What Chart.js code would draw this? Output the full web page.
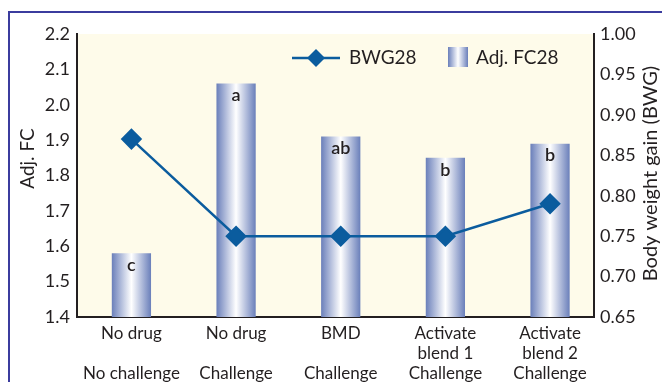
<!DOCTYPE html>
<html>
<head>
<meta charset="utf-8">
<script src="https://cdn.jsdelivr.net/npm/chart.js@4.4.0/dist/chart.umd.min.js"></script>
<style>
    body { margin: 0; background: #ffffff; }
    #wrap { width: 662px; height: 382px; position: relative; }
</style>
</head>
<body>
<div id="wrap"><canvas id="chartCanvas" width="662" height="382"></canvas></div>
<script>
const categories = [
    ["No drug", "", "No challenge"],
    ["No drug", "", "Challenge"],
    ["BMD", "", "Challenge"],
    ["Activate", "blend 1", "Challenge"],
    ["Activate", "blend 2", "Challenge"]
];
const adjFC28 = [1.58, 2.06, 1.91, 1.85, 1.89];
const bwg28 = [0.87, 0.75, 0.75, 0.75, 0.79];
const sigLetters = ["c", "a", "ab", "b", "b"];

const fontFamily = "Lato, 'Open Sans', sans-serif";
const textColor = "#231f20";
const lineColor = "#0b5c9e";
const barEdge = "#6a7fba";

function barGradient(ctx, x0, x1) {
    const g = ctx.createLinearGradient(x0, 0, x1, 0);
    g.addColorStop(0, barEdge);
    g.addColorStop(0.5, "#ffffff");
    g.addColorStop(1, barEdge);
    return g;
}

const chartDecor = {
    id: "chartDecor",
    beforeDraw(chart) {
        const { ctx, chartArea: a } = chart;
        ctx.save();
        // outer frame
        ctx.strokeStyle = "#3b3c9e";
        ctx.lineWidth = 2;
        ctx.beginPath();
        ctx.moveTo(9, 382);
        ctx.lineTo(9, 12);
        ctx.lineTo(662, 12);
        ctx.stroke();
        // plot background
        ctx.fillStyle = "#fefbea";
        ctx.fillRect(a.left, a.top, a.right - a.left, a.bottom - a.top);
        ctx.restore();
    },
    beforeDatasetsDraw(chart) {
        // each bar gets its own horizontal gradient (options are shared by default)
        const meta = chart.getDatasetMeta(1);
        meta.data.forEach(bar => {
            const half = bar.width / 2;
            bar.options = Object.assign({}, bar.options, {
                backgroundColor: barGradient(chart.ctx, bar.x - half, bar.x + half)
            });
        });
    },
    afterDatasetsDraw(chart) {
        const { ctx } = chart;
        const meta = chart.getDatasetMeta(1);
        ctx.save();
        ctx.fillStyle = textColor;
        ctx.font = "600 18px " + fontFamily;
        ctx.textAlign = "center";
        ctx.textBaseline = "middle";
        meta.data.forEach((bar, i) => {
            ctx.fillText(sigLetters[i], bar.x, bar.y + 12);
        });
        ctx.restore();
    },
    afterDraw(chart) {
        const { ctx } = chart;
        const a = chart.chartArea;
        ctx.save();
        // legend
        ctx.strokeStyle = lineColor;
        ctx.lineWidth = 2.5;
        ctx.beginPath();
        ctx.moveTo(292, 58);
        ctx.lineTo(340, 58);
        ctx.stroke();
        ctx.fillStyle = lineColor;
        ctx.beginPath();
        ctx.moveTo(316, 49);
        ctx.lineTo(325, 58);
        ctx.lineTo(316, 67);
        ctx.lineTo(307, 58);
        ctx.closePath();
        ctx.fill();
        ctx.fillStyle = barGradient(ctx, 448, 468);
        ctx.fillRect(448, 47, 20, 20);
        ctx.fillStyle = textColor;
        ctx.font = "19px " + fontFamily;
        ctx.textBaseline = "middle";
        ctx.textAlign = "left";
        ctx.fillText(chart.data.datasets[0].label, 349, 58);
        ctx.fillText(chart.data.datasets[1].label, 476, 58);
        // axis titles, reading bottom to top
        const midY = (a.top + a.bottom) / 2;
        ctx.textAlign = "center";
        ctx.save();
        ctx.translate(28, midY - 17);
        ctx.rotate(-Math.PI / 2);
        ctx.font = "19px " + fontFamily;
        ctx.fillText("Adj. FC", 0, 0);
        ctx.restore();
        ctx.save();
        ctx.translate(651, midY - 2);
        ctx.rotate(-Math.PI / 2);
        ctx.font = "20px " + fontFamily;
        ctx.fillText("Body weight gain (BWG)", 0, 0);
        ctx.restore();
        ctx.restore();
    }
};

const ctx = document.getElementById("chartCanvas").getContext("2d");

new Chart(ctx, {
    data: {
        datasets: [
            {
                type: "line",
                label: "BWG28",
                data: bwg28.map((v, i) => ({ x: i, y: v })),
                yAxisID: "yR",
                borderColor: lineColor,
                backgroundColor: lineColor,
                borderWidth: 2.5,
                pointStyle: "rectRot",
                pointRadius: 9,
                pointHoverRadius: 9,
                order: 0
            },
            {
                type: "bar",
                label: "Adj. FC28",
                data: adjFC28.map((v, i) => ({ x: i, y: v })),
                yAxisID: "y",
                backgroundColor: barEdge,
                categoryPercentage: 1,
                barPercentage: 0.375,
                order: 1
            }
        ]
    },
    options: {
        responsive: false,
        animation: false,
        events: [],
        layout: { padding: { left: 11, top: 34, right: 0, bottom: 0 } },
        scales: {
            x: {
                type: "linear",
                min: -0.52,
                max: 4.42,
                offset: false,
                grid: { display: false, drawTicks: false },
                border: { color: textColor, width: 2 },
                afterBuildTicks(scale) {
                    scale.ticks = categories.map((c, i) => ({ value: i }));
                },
                ticks: {
                    color: textColor,
                    font: { family: fontFamily, size: 17 },
                    padding: 6,
                    maxRotation: 0,
                    autoSkip: false,
                    callback: v => categories[v]
                },
                afterFit(scale) { scale.height = 65; }
            },
            y: {
                position: "left",
                min: 1.4,
                max: 2.2,
                grid: { display: false, drawTicks: false },
                border: { color: textColor, width: 2 },
                ticks: {
                    stepSize: 0.1,
                    color: textColor,
                    font: { family: fontFamily, size: 18 },
                    padding: 7,
                    callback: v => v.toFixed(1)
                },
                afterFit(scale) { scale.width = 66; }
            },
            yR: {
                position: "right",
                min: 0.65,
                max: 1.0,
                grid: { display: false, drawTicks: false },
                border: { color: textColor, width: 2 },
                ticks: {
                    stepSize: 0.05,
                    color: textColor,
                    font: { family: fontFamily, size: 18 },
                    padding: 6,
                    callback: v => v.toFixed(2)
                },
                afterFit(scale) { scale.width = 68; }
            }
        },
        plugins: {
            legend: { display: false },
            tooltip: { enabled: false }
        }
    },
    plugins: [chartDecor]
});
</script>
</body>
</html>
